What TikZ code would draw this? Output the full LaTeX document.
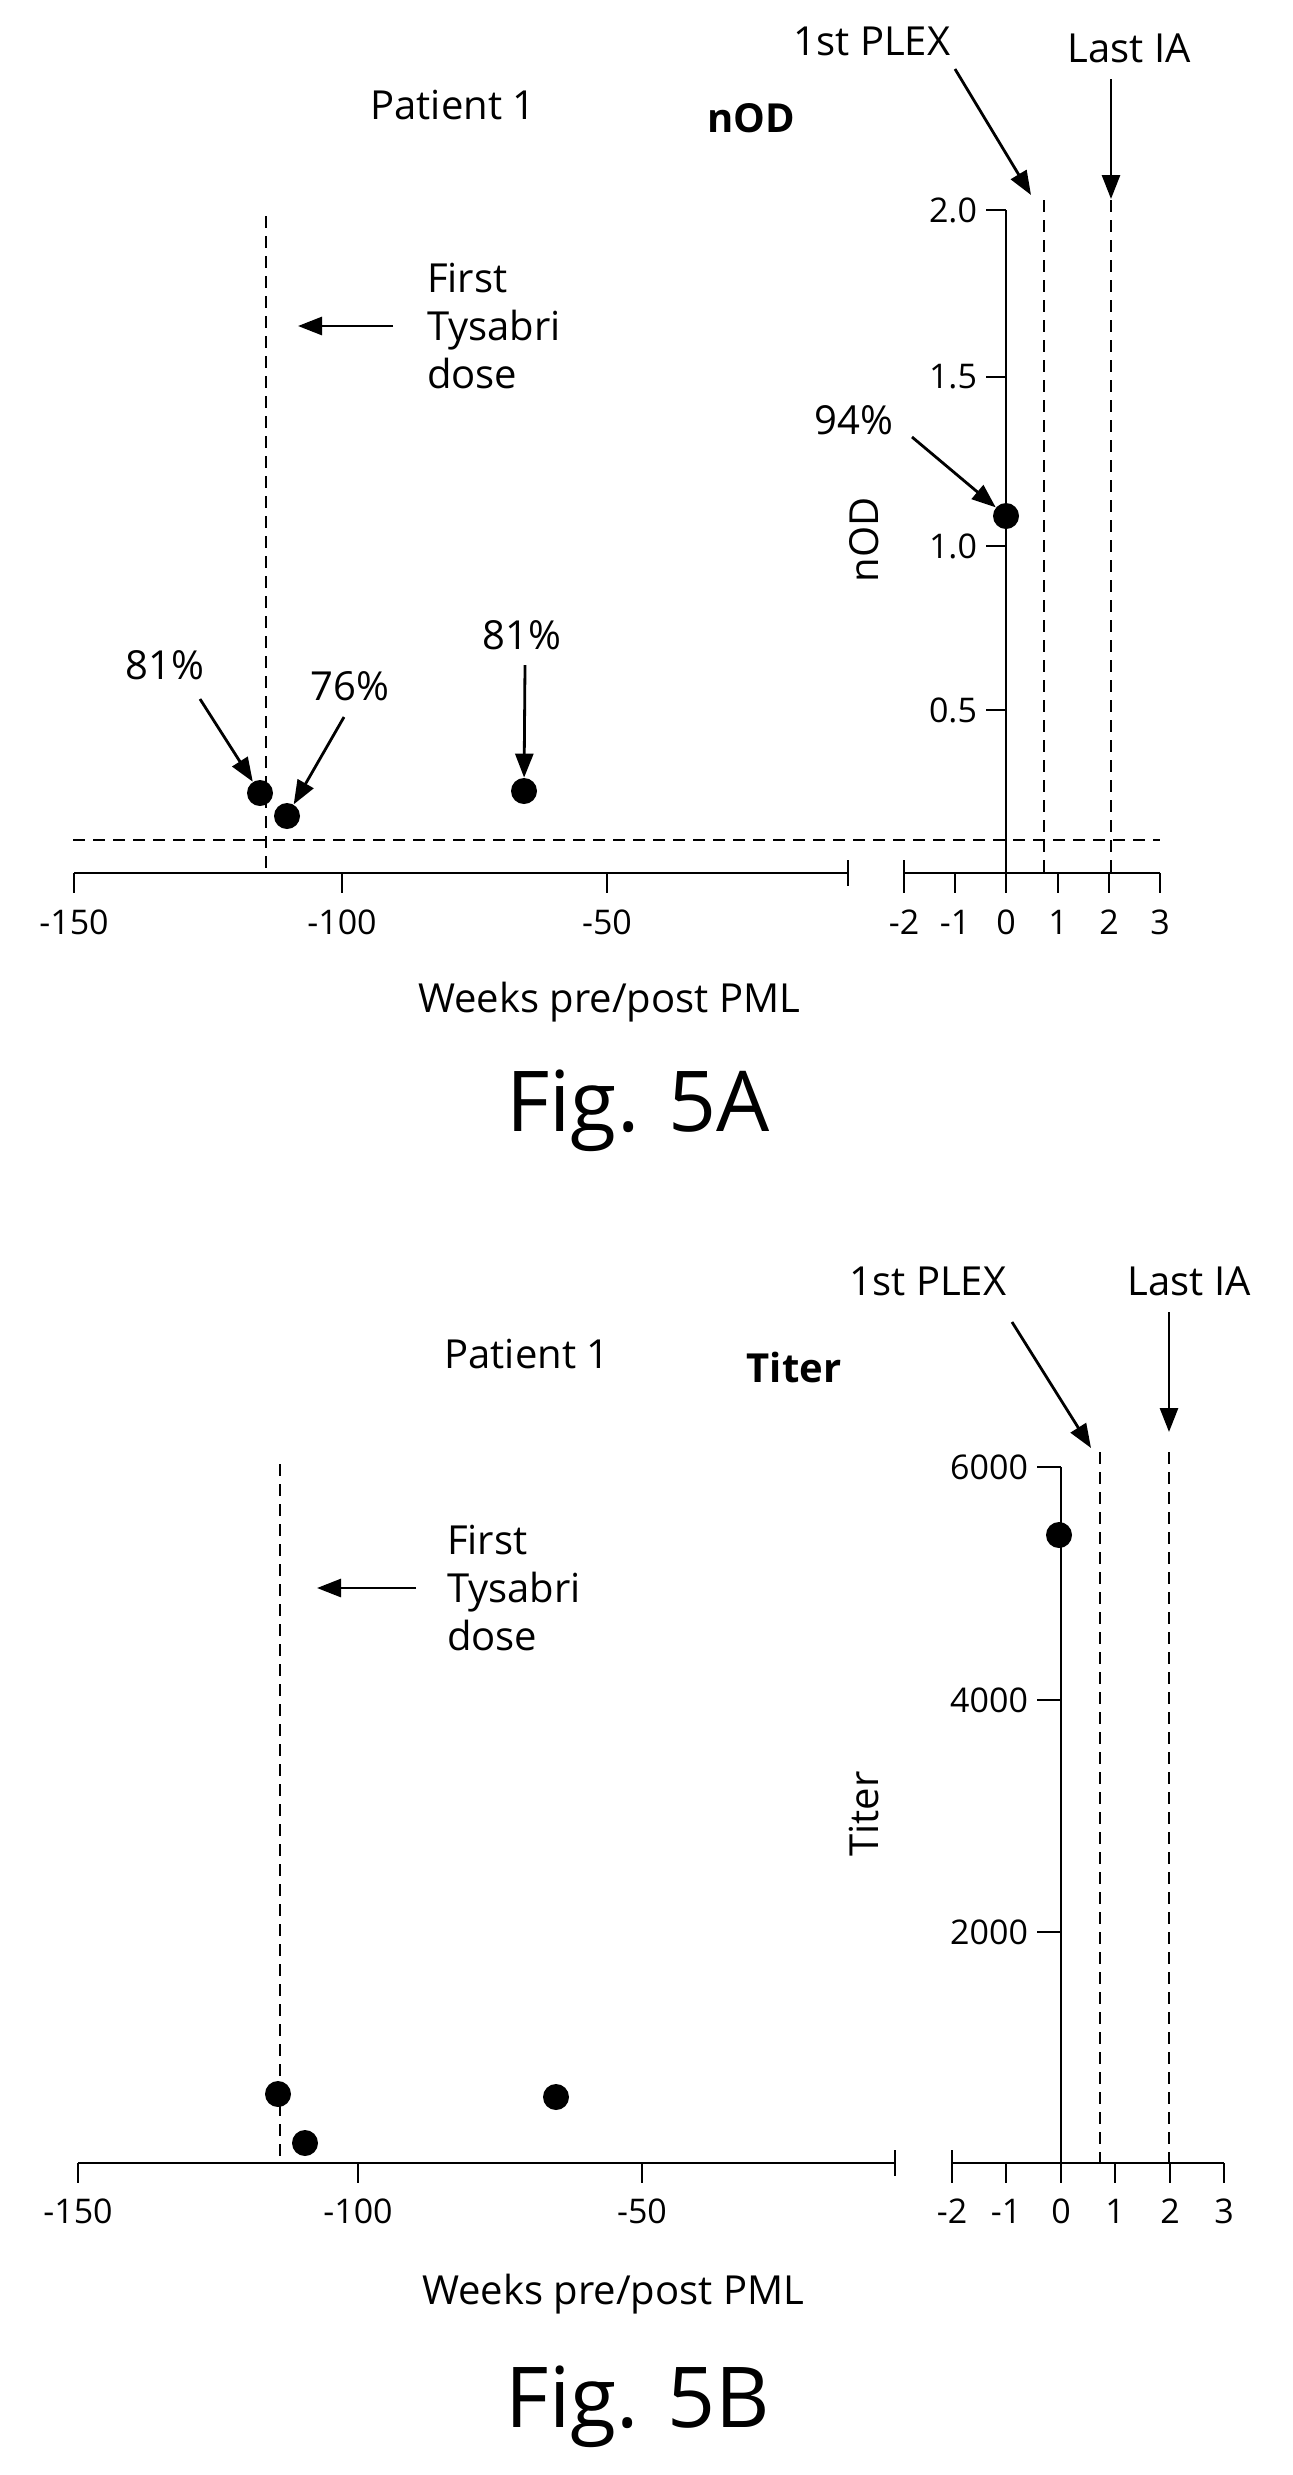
\documentclass[tikz,border=0pt]{standalone}
\usepackage{fontspec}
\setmainfont{Open Sans}
\usetikzlibrary{arrows.meta}
\begin{document}
\begin{tikzpicture}[x=0.5pt,y=-0.5pt,
  ax/.style={line width=1.4pt},
  dsh/.style={line width=1.1pt,dash pattern=on 6pt off 4pt},
  ar/.style={line width=1.4pt,-{Triangle[length=12pt,width=9pt]}},
  dot/.style={circle,fill=black,inner sep=0pt,minimum size=13pt},
  tl/.style={font=\fontsize{17}{19}\selectfont},
  lb/.style={font=\fontsize{20}{24}\selectfont},
  big/.style={font=\fontsize{42}{46}\selectfont}]
\useasboundingbox (0,0) rectangle (1292,2475);
% ===== Fig 5A =====
\draw[ax] (74,873) -- (848,873);
\foreach \x/\l in {74/-150,342/-100,607/-50} {\draw[ax] (\x,873) -- (\x,893); \node[tl] at (\x,922) {\l};}
\draw[ax] (848,860) -- (848,886);
\draw[ax] (904,873) -- (1160,873);
\foreach \x/\l in {904/-2,955/-1,1006/0,1058/1,1109/2,1160/3} {\draw[ax] (\x,873) -- (\x,893); \node[tl] at (\x,922) {\l};}
\draw[ax] (904,860) -- (904,873);
\draw[ax] (1006,873) -- (1006,210);
\foreach \y/\l in {210/2.0,377/1.5,546/1.0,710/0.5} {\draw[ax] (986,\y) -- (1006,\y); \node[tl,anchor=east] at (984,\y) {\l};}
\node[lb,rotate=90] (ylA) at (864,540) {nOD};
\draw[dsh] (73,840) -- (1160,840);
\draw[dsh] (266,216) -- (266,868);
\draw[dsh] (1044,200) -- (1044,873);
\draw[dsh] (1111,200) -- (1111,873);
\node[dot] (a1) at (260,793) {};
\node[dot] (a2) at (287,816) {};
\node[dot] (a3) at (524,791) {};
\node[dot] (a4) at (1006,516) {};
\node[lb] (pA) at (453,105) {Patient 1};
\node[lb,font=\fontsize{20}{24}\selectfont\bfseries] (nA) at (751,118) {nOD};
\node[lb] (plA) at (872,41) {1st PLEX};
\node[lb] (iaA) at (1129,48) {Last IA};
\coordinate (plAe) at (1031,195); \coordinate (iaAe) at (1111,199);
\draw[ar] (955,69) -- (plAe);
\draw[ar] (1111,79) -- (iaAe);
\node[lb,anchor=west,align=left] (tyA) at (420,326) {First\\Tysabri\\dose};
\coordinate (tyAe) at (298,326);
\draw[ar] (393,326) -- (tyAe);
\node[lb] (p94) at (854,420) {94\%};
\draw[ar] (912,437) -- (a4);
\node[lb] (p81a) at (165,665) {81\%};
\draw[ar] (200,699) -- (a1);
\node[lb] (p76) at (350,686) {76\%};
\draw[ar] (344,717) -- (a2);
\node[lb] (p81b) at (522,635) {81\%};
\draw[ar] (525,665) -- (a3);
\node[lb] (wA) at (609,1002) {Weeks pre/post PML};
\node[big] (fA) at (638,1111) {Fig. 5A};
% ===== Fig 5B =====
\draw[ax] (78,2163) -- (895,2163);
\foreach \x/\l in {78/-150,358/-100,642/-50} {\draw[ax] (\x,2163) -- (\x,2183); \node[tl] at (\x,2211) {\l};}
\draw[ax] (895,2150) -- (895,2176);
\draw[ax] (952,2163) -- (1224,2163);
\foreach \x/\l in {952/-2,1006/-1,1061/0,1115/1,1170/2,1224/3} {\draw[ax] (\x,2163) -- (\x,2183); \node[tl] at (\x,2211) {\l};}
\draw[ax] (952,2150) -- (952,2163);
\draw[ax] (1061,2163) -- (1061,1467);
\foreach \y/\l in {1467/6000,1700/4000,1932/2000} {\draw[ax] (1037,\y) -- (1061,\y); \node[tl,anchor=east] at (1035,\y) {\l};}
\node[lb,rotate=90] (ylB) at (864,1814) {Titer};
\draw[dsh] (280,1464) -- (280,2163);
\draw[dsh] (1100,1452) -- (1100,2163);
\draw[dsh] (1169,1452) -- (1169,2163);
\node[dot] (b1) at (278,2094) {};
\node[dot] (b2) at (305,2143) {};
\node[dot] (b3) at (556,2097) {};
\node[dot] (b4) at (1059,1535) {};
\node[lb] (pB) at (527,1354) {Patient 1};
\node[lb,font=\fontsize{20}{24}\selectfont\bfseries] (nB) at (794,1367) {Titer};
\node[lb] (plB) at (928,1281) {1st PLEX};
\node[lb] (iaB) at (1189,1281) {Last IA};
\coordinate (plBe) at (1091,1448); \coordinate (iaBe) at (1169,1432);
\draw[ar] (1012,1322) -- (plBe);
\draw[ar] (1169,1312) -- (iaBe);
\node[lb,anchor=west,align=left] (tyB) at (440,1588) {First\\Tysabri\\dose};
\coordinate (tyBe) at (317,1588);
\draw[ar] (416,1588) -- (tyBe);
\node[lb] (wB) at (613,2294) {Weeks pre/post PML};
\node[big] (fB) at (638,2407) {Fig. 5B};
\end{tikzpicture}
\end{document}
